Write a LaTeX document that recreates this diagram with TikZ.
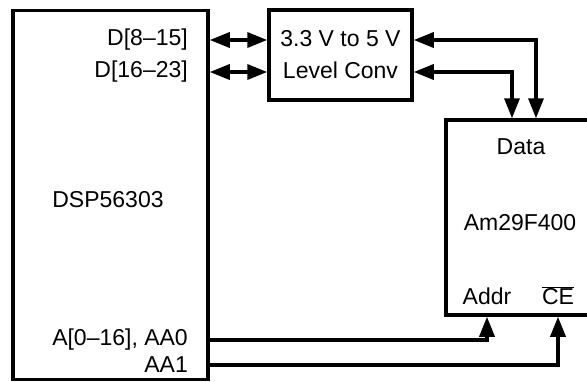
\documentclass[tikz,border=0pt]{standalone}
\usepackage{fontspec}
\setmainfont{Liberation Sans}
\usetikzlibrary{arrows.meta,positioning}

\begin{document}
\begin{tikzpicture}[x=1pt, y=-1pt, every node/.style={font=\fontsize{23}{32}\selectfont},
  chip/.style={rectangle, draw, line width=3.5pt, inner sep=0pt},
  pin/.style={inner sep=0pt},
  bus/.style={line width=3.5pt, -{Triangle[length=20pt,width=15pt]}},
  bibus/.style={line width=3.5pt, {Triangle[length=20pt,width=15pt]}-{Triangle[length=20pt,width=15pt]}}]
\clip (0,0) rectangle (587,381);
% DSP side
\node[chip, minimum width=195pt, minimum height=369pt] (dsp) at (110.5,195) {};
\node[pin, anchor=east] (d815) at (188,40) {D[8–15]};
\node[pin, anchor=east] (d1623) at (188,72) {D[16–23]};
\node[pin] (dspname) at (108,200) {DSP56303};
\node[pin, anchor=east] (a016) at (188,340) {A[0–16], AA0};
\node[pin, anchor=east] (aa1) at (188,365) {AA1};
% level converter
\node[chip, minimum width=143pt, minimum height=90pt, align=center] (conv) at (340.5,55) {3.3 V to 5 V\\Level Conv};
% flash
\node[chip, minimum width=148pt, minimum height=195pt] (flash) at (520,217.5) {};
\node[pin] (data) at (521,147) {Data};
\node[pin] (flashname) at (520,223) {Am29F400};
\node[pin] (addr) at (487,296) {Addr};
\node[pin] (ce) at (558,296) {$\overline{\mbox{CE}}$};
\draw[bibus] (dsp.east |- d815) -- (conv.west |- d815);
\draw[bibus] (dsp.east |- d1623) -- (conv.west |- d1623);
\draw[bibus] (conv.east |- d815) -| ([xshift=16pt]flash.north);
\draw[bibus] (conv.east |- d1623) -| ([xshift=-8pt]flash.north);
\draw[bus] (dsp.east |- a016) -| (addr |- flash.south);
\draw[bus] (dsp.east |- aa1) -| (ce |- flash.south);
\end{tikzpicture}
\end{document}
